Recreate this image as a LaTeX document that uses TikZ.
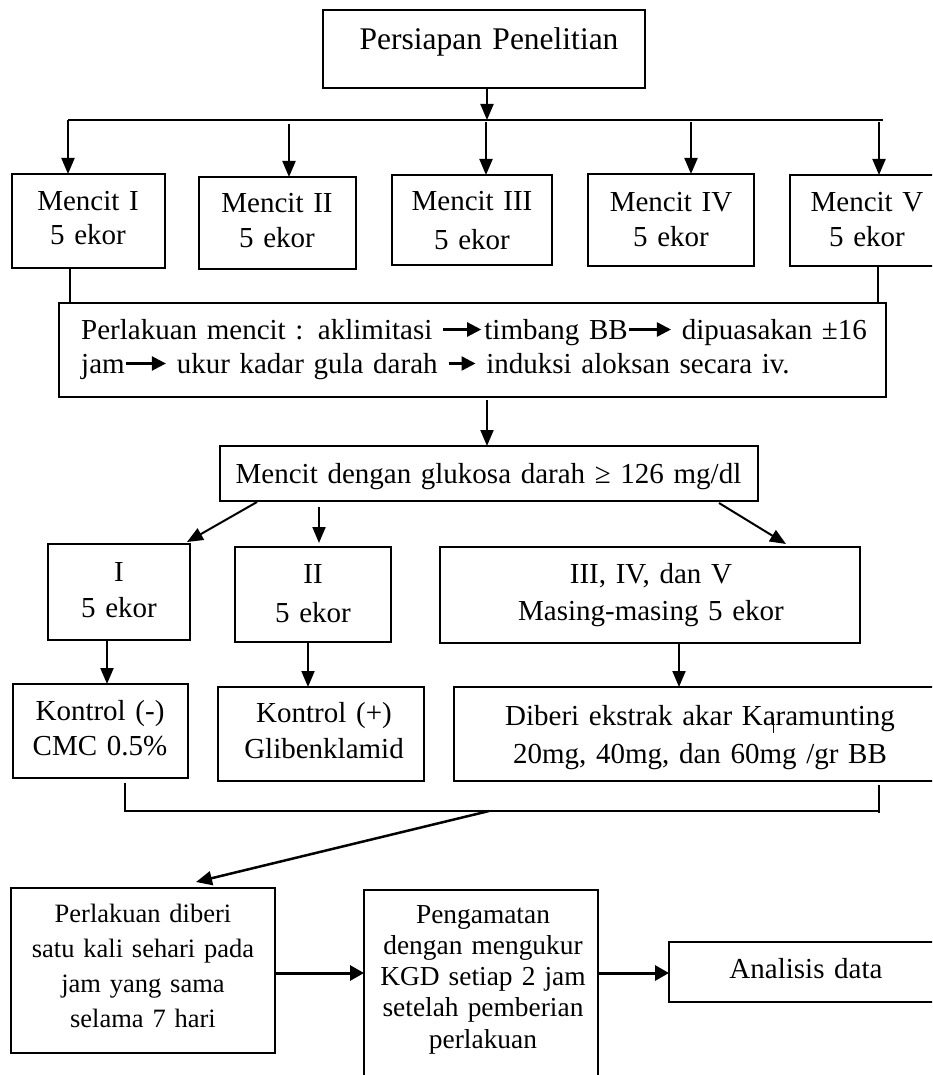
\documentclass[tikz,border=0pt]{standalone}
\usepackage{fontspec}
\setmainfont{Liberation Serif}
\usetikzlibrary{arrows.meta,calc}
\newcommand{\inarr}[1]{\tikz[baseline={(0pt,-9.5pt)}]\draw[line width=2.4pt,-{Triangle[length=14pt,width=14pt]}](0pt,0pt)--(#1,0pt);}
\newcommand{\boxnode}[5]{\node[box,anchor=north west,minimum width={(#4-#2)*1pt},minimum height={(#5-#3)*1pt}] (#1) at (#2,#3) {};}
\begin{document}
\begin{tikzpicture}[x=1pt,y=-1pt,
  box/.style={draw=black,line width=1.5pt,inner sep=0pt,outer sep=0pt},
  conn/.style={line width=2pt},
  thinconn/.style={line width=1.1pt},
  arr/.style={conn,-{Triangle[length=16pt,width=13pt]}},
  bigarr/.style={line width=3pt,-{Triangle[length=14pt,width=15pt]}},
  txt/.style={inner sep=0pt,anchor=base,align=center,text width=700pt},
  f29/.style={font=\fontsize{29}{34}\selectfont},
]
\useasboundingbox (0,0) rectangle (932,1075);
\clip (0,0) rectangle (932,1075);

% ---------- boxes ----------
\boxnode{pers}{323}{10}{645}{88}
\boxnode{m1}{12}{174}{165}{268}
\boxnode{m2}{199}{177}{356}{269}
\boxnode{m3}{392}{175}{552}{265}
\boxnode{m4}{588}{174}{754}{266}
\boxnode{m5}{790}{175}{945}{266}
\boxnode{perl}{59}{303}{886}{397}
\boxnode{gluk}{220}{446}{758}{501}
\boxnode{g1}{48}{544}{190}{640}
\boxnode{g2}{235}{547}{391}{642}
\boxnode{g3}{440}{547}{860}{643}
\boxnode{k1}{13}{684}{188}{778}
\boxnode{k2}{218}{687}{424}{781}
\boxnode{k3}{454}{687}{946}{781}
\boxnode{pd}{11}{888}{275}{1053}
\boxnode{peng}{364}{890}{598}{1095}
\boxnode{ana}{669}{942}{943}{1002}

% ---------- texts ----------
\node[txt,font=\fontsize{31.5}{36}\selectfont] (tpers) at (489,50) {Persiapan Penelitian};
\node[txt,font=\fontsize{29}{34}\selectfont] (tm1) at (88,211) {Mencit I\\5 ekor};
\node[txt,font=\fontsize{29}{35}\selectfont] (tm2) at (277,213) {Mencit II\\5 ekor};
\node[txt,font=\fontsize{29}{39}\selectfont] (tm3) at (472,211) {Mencit III\\5 ekor};
\node[txt,font=\fontsize{29}{35}\selectfont] (tm4) at (671,212) {Mencit IV\\5 ekor};
\node[txt,font=\fontsize{29}{35}\selectfont] (tm5) at (867,212) {Mencit V\\5 ekor};
\node[txt,f29,anchor=base west,align=left,text width=820pt] (tperl) at (81,339)
  {Perlakuan mencit : aklimitasi \inarr{38pt}\hspace{2pt}timbang BB\inarr{42pt} dipuasakan ±16\\jam\inarr{40pt} ukur kadar gula darah \inarr{27pt} induksi aloksan secara iv.};
\node[txt,f29] (tgluk) at (488.5,483) {Mencit dengan glukosa darah ≥ 126 mg/dl};
\node[txt,font=\fontsize{29}{36}\selectfont] (tg1) at (119,581) {I\\5 ekor};
\node[txt,font=\fontsize{29}{39}\selectfont] (tg2) at (313,583) {II\\5 ekor};
\node[txt,font=\fontsize{29}{37}\selectfont] (tg3) at (651,583) {III, IV, dan V\\Masing-masing 5 ekor};
\node[txt,font=\fontsize{29}{35}\selectfont] (tk1) at (100,720) {Kontrol (-)\\CMC 0.5\%};
\node[txt,font=\fontsize{29}{36}\selectfont] (tk2) at (324,722) {Kontrol (+)\\Glibenklamid};
\node[txt,font=\fontsize{29}{38}\selectfont] (tk3) at (700,725) {Diberi ekstrak akar Karamunting\\20mg, 40mg, dan 60mg /gr BB};
\node[txt,font=\fontsize{26.5}{35.3}\selectfont] (tpd) at (143,922) {Perlakuan diberi\\satu kali sehari pada\\jam yang sama\\selama 7 hari};
\node[txt,font=\fontsize{27.4}{31.3}\selectfont] (tpeng) at (483,923) {Pengamatan\\dengan mengukur\\KGD setiap 2 jam\\setelah pemberian\\perlakuan};
\node[txt,f29] (tana) at (806,978) {Analisis data};
\draw[line width=1pt] (773,718) -- (773,733);

% ---------- connectors ----------
\coordinate (busTop) at (487,120);
\coordinate (busL) at (68,120);
\coordinate (busR) at (883,120);
\draw[arr] (pers.south -| busTop) -- (busTop);
\draw[conn] (busL) -- (busR);
\coordinate (b1) at (68,120);
\coordinate (b2) at (289,124);
\coordinate (b3) at (486,122);
\coordinate (b4) at (691,122);
\coordinate (b5) at (879,122);
\draw[arr] (b1) -- (b1 |- m1.north);
\draw[arr] (b2) -- (b2 |- m2.north);
\draw[arr] (b3) -- (b3 |- m3.north);
\draw[arr] (b4) -- (b4 |- m4.north);
\draw[arr] (b5) -- (b5 |- m5.north);
\coordinate (l1) at (70,0);
\coordinate (l5) at (878,0);
\draw[thinconn] (l1 |- m1.south) -- (l1 |- perl.north);
\draw[thinconn] (l5 |- m5.south) -- (l5 |- perl.north);
\coordinate (pg) at (487,400);
\draw[arr] (pg) -- (pg |- gluk.north);
\coordinate (ga) at (257,502);
\coordinate (gae) at (187,542);
\coordinate (gb) at (319,507);
\coordinate (gbe) at (319,543);
\coordinate (gc) at (719,503);
\coordinate (gce) at (786,544);
\draw[arr] (ga) -- (gae);
\draw[arr] (gb) -- (gbe);
\draw[arr] (gc) -- (gce);
\coordinate (a1) at (107,0);
\coordinate (a2) at (308,0);
\coordinate (a3) at (679,0);
\draw[arr] (a1 |- g1.south) -- (a1 |- k1.north);
\draw[arr] (a2 |- g2.south) -- (a2 |- k2.north);
\draw[arr] (a3 |- g3.south) -- (a3 |- k3.north);
\coordinate (brL) at (125,783);
\coordinate (brR) at (879,785);
\coordinate (brRb) at (879,813);
\coordinate (brM) at (489,811);
\coordinate (pdIn) at (196,882);
\draw[thinconn] (brL) -- (brL |- brM) -- (brM -| brR) -- (brR);
\draw[thinconn] (brM -| brR) -- (brRb);
\draw[conn,line width=2.5pt,-{Triangle[length=16pt,width=14pt]}] (brM) -- (pdIn);
\coordinate (h1) at (0,973);
\draw[bigarr] (h1 -| pd.east) -- (h1 -| peng.west);
\draw[bigarr] (h1 -| peng.east) -- (h1 -| ana.west);
\end{tikzpicture}
\end{document}
